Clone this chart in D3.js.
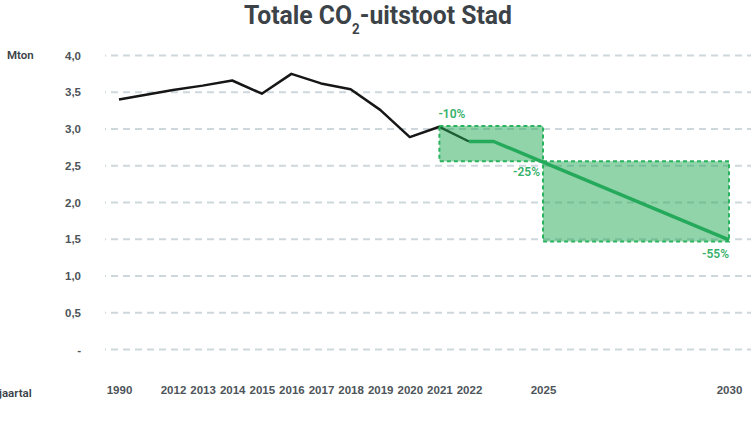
<!DOCTYPE html>
<html>
<head>
<meta charset="utf-8">
<script src="https://cdn.jsdelivr.net/npm/d3@7"></script>
<style>
	body { margin: 0; background: #fff; }
	svg { display: block; font-family: "Roboto", "Noto Sans", sans-serif; }
	.grid line { stroke: #cdd7dc; stroke-width: 2; stroke-dasharray: 7,5; stroke-dashoffset: 6; }
	.axis text { fill: #4d5459; font-size: 11.5px; font-weight: 600; }
</style>
</head>
<body>
<script>
//historic emissions (Mton)
var years = [1990, 2012, 2013, 2014, 2015, 2016, 2017, 2018, 2019, 2020, 2021, 2022];
var emissions = [3.40, 3.53, 3.59, 3.66, 3.48, 3.75, 3.62, 3.54, 3.26, 2.89, 3.03, 2.83];

//target path
var targetYears = [2022, 2023, 2025, 2030];
var targetValues = [2.83, 2.83, 2.55, 1.49];

//target boxes
var boxStart = [2021, 2025],
	boxEnd = [2025, 2030],
	boxTop = [3.04, 2.56],
	boxBottom = [2.56, 1.47];

//target labels
var targetLabels = ["-10%", "-25%", "-55%"],
	targetLabelYears = [2021, 2025, 2030],
	targetLabelValues = [3.04, 2.56, 1.47];

//axis ticks
var yTicks = [0, 0.5, 1, 1.5, 2, 2.5, 3, 3.5, 4];
var xTicks = [1990, 2012, 2013, 2014, 2015, 2016, 2017, 2018, 2019, 2020, 2021, 2022, 2025, 2030];

var width = 751,
	height = 423;

var svg = d3.select("body")
	.append("svg")
	.attr("width", width)
	.attr("height", height);

//uneven year axis, so a polylinear scale
var x = d3.scaleLinear()
	.domain([1990, 2012, 2022, 2025, 2030])
	.range([119, 173, 469, 543, 729]);

var y = d3.scaleLinear()
	.domain([0, 4])
	.range([349.5, 55.5]);

var nl = d3.formatLocale({decimal: ",", thousands: ".", grouping: [3], currency: ["€", ""]});
var fmt = nl.format(".1f");

//title (squeezed to match the condensed font of the original)
var titleG = svg.append("g");
var title = titleG.append("text")
	.attr("x", 0)
	.attr("y", 0)
	.attr("text-anchor", "middle")
	.style("font-family", "Roboto, sans-serif")
	.style("font-size", "26px")
	.style("font-weight", "bold")
	.style("fill", "#3c4348");
title.append("tspan").text("Totale CO");
title.append("tspan").attr("dy", 10).style("font-size", "14px").text("2");
title.append("tspan").attr("dy", -10).text("-uitstoot Stad");
var tw = title.node().getBBox().width;
titleG.attr("transform", "translate(378,23.5) scale(" + (268 / tw) + ",1)");

//gridlines
svg.append("g")
	.attr("class", "grid")
	.selectAll("line")
	.data(yTicks)
	.enter()
	.append("line")
	.attr("x1", 105)
	.attr("x2", 751)
	.attr("y1", function(d){ return y(d); })
	.attr("y2", function(d){ return y(d); });

//y axis
var yAxis = svg.append("g")
	.attr("class", "axis")
	.attr("transform", "translate(81,0)")
	.call(d3.axisLeft(y)
		.tickValues(yTicks)
		.tickSize(0)
		.tickPadding(0)
		.tickFormat(function(d){ return d === 0 ? "-" : fmt(d); }));
yAxis.select(".domain").remove();

//x axis
var xAxis = svg.append("g")
	.attr("class", "axis")
	.attr("transform", "translate(0,386)")
	.call(d3.axisBottom(x)
		.tickValues(xTicks)
		.tickSize(0)
		.tickPadding(0)
		.tickFormat(d3.format("d")));
xAxis.select(".domain").remove();

//axis titles
svg.append("text")
	.attr("x", 7)
	.attr("y", 59)
	.style("font-size", "11.5px")
	.style("font-weight", "600")
	.style("fill", "#3c4348")
	.text("Mton");

svg.append("text")
	.attr("x", -1)
	.attr("y", 397)
	.style("font-size", "11.5px")
	.style("font-weight", "600")
	.style("fill", "#3c4348")
	.text("jaartal");

var line = d3.line()
	.x(function(d){ return x(d[0]); })
	.y(function(d){ return y(d[1]); });

//historic line
svg.append("path")
	.datum(d3.zip(years, emissions))
	.attr("fill", "none")
	.attr("stroke", "#161616")
	.attr("stroke-width", 2.5)
	.attr("stroke-linejoin", "round")
	.attr("d", line);

//target boxes
svg.selectAll(".target")
	.data(d3.range(boxStart.length))
	.enter()
	.append("rect")
	.attr("class", "target")
	.attr("x", function(i){ return x(boxStart[i]); })
	.attr("y", function(i){ return y(boxTop[i]); })
	.attr("width", function(i){ return x(boxEnd[i]) - x(boxStart[i]); })
	.attr("height", function(i){ return y(boxBottom[i]) - y(boxTop[i]); })
	.attr("fill", "rgba(36,169,85,0.5)")
	.attr("stroke", "#2bb35f")
	.attr("stroke-width", 2)
	.attr("stroke-dasharray", "4,3");

//target path
svg.append("path")
	.datum(d3.zip(targetYears, targetValues))
	.attr("fill", "none")
	.attr("stroke", "#25a95a")
	.attr("stroke-width", 3.5)
	.attr("stroke-linejoin", "round")
	.attr("d", line);

//target labels
var anchors = ["start", "end", "end"],
	dx = [-1, -3, 0],
	dy = [-8, 15, 17];
svg.selectAll(".tlabel")
	.data(d3.range(targetLabels.length))
	.enter()
	.append("text")
	.attr("class", "tlabel")
	.attr("x", function(i){ return x(targetLabelYears[i]) + dx[i]; })
	.attr("y", function(i){ return y(targetLabelValues[i]) + dy[i]; })
	.attr("text-anchor", function(i){ return anchors[i]; })
	.style("font-size", "12px")
	.style("font-weight", "600")
	.style("fill", "#35b06a")
	.text(function(i){ return targetLabels[i]; });
</script>
</body>
</html>
